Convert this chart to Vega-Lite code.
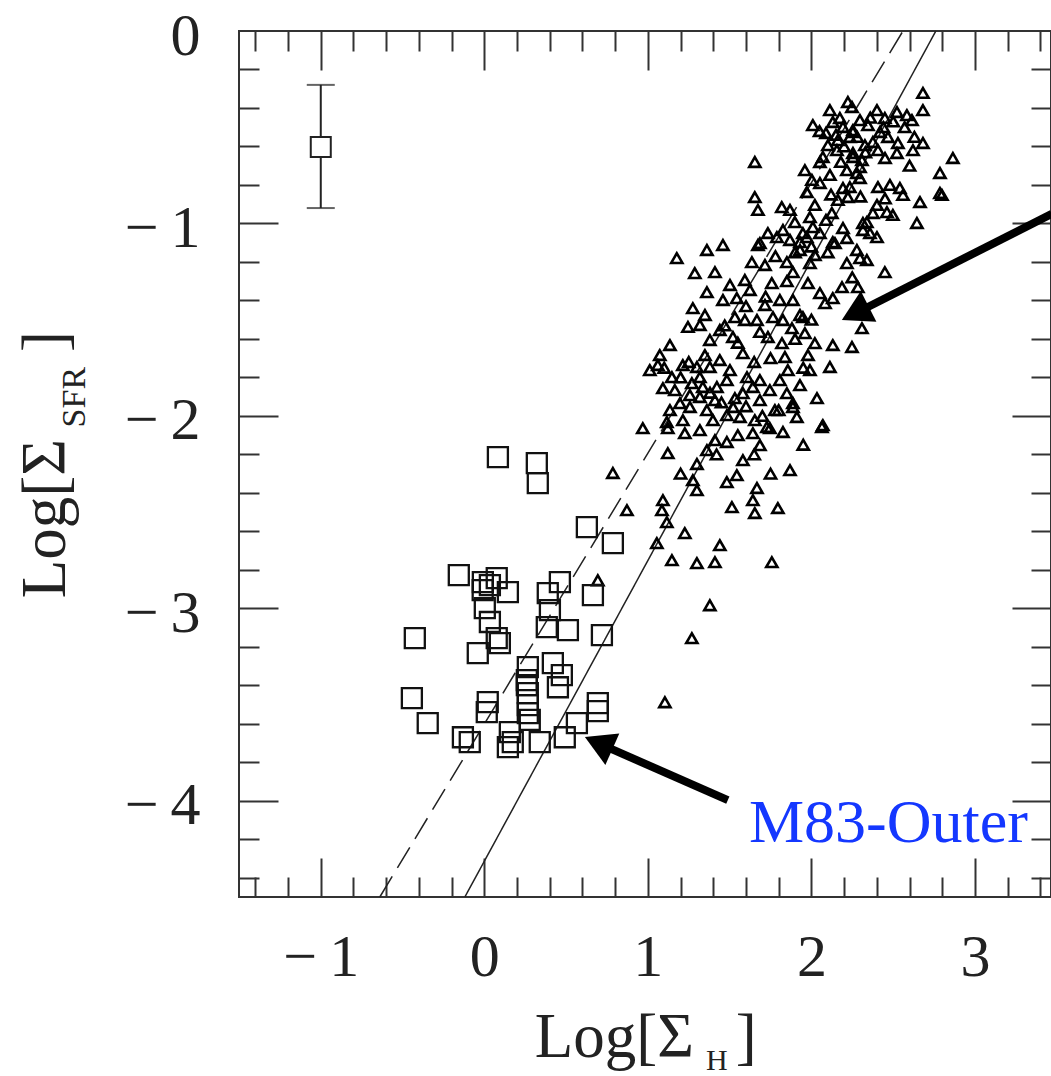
{
  "$schema": "https://vega.github.io/schema/vega-lite/v6.json",
  "width": 812,
  "height": 866,
  "autosize": {"type": "none"},
  "padding": {"left": 239, "top": 31, "right": 0, "bottom": 179},
  "background": "white",
  "config": {
    "view": {"stroke": "#333", "strokeWidth": 2},
    "axis": {"grid": false, "domain": false, "title": null}
  },
  "resolve": {"axis": {"x": "independent", "y": "independent"}},
  "datasets": {
    "lines": [
      {"line": "dashed", "x": -0.639, "y": -4.5},
      {"line": "dashed", "x": 2.56, "y": 0},
      {"line": "solid", "x": -0.119, "y": -4.5},
      {"line": "solid", "x": 2.761, "y": 0}
    ],
    "errbar": [{"x": -1, "y": -0.603, "lo": -0.92, "hi": -0.28}],
    "squares": [
      {"x": 0.083, "y": -2.214}, {"x": 0.321, "y": -2.245}, {"x": 0.327, "y": -2.349},
      {"x": 0.627, "y": -2.578}, {"x": 0.786, "y": -2.661}, {"x": -0.156, "y": -2.827},
      {"x": -0.009, "y": -2.864}, {"x": 0.034, "y": -2.879}, {"x": 0.144, "y": -2.916},
      {"x": 0.462, "y": -2.864}, {"x": 0.388, "y": -2.921}, {"x": 0.664, "y": -2.931},
      {"x": 0.003, "y": -2.999}, {"x": 0.401, "y": -3.009}, {"x": 0.034, "y": -3.071},
      {"x": 0.382, "y": -3.098}, {"x": 0.511, "y": -3.113}, {"x": 0.719, "y": -3.139},
      {"x": -0.425, "y": -3.155}, {"x": 0.076, "y": -3.155}, {"x": 0.095, "y": -3.181},
      {"x": -0.04, "y": -3.233}, {"x": 0.266, "y": -3.306}, {"x": 0.419, "y": -3.285},
      {"x": 0.474, "y": -3.347}, {"x": 0.26, "y": -3.373}, {"x": 0.266, "y": -3.441},
      {"x": 0.45, "y": -3.41}, {"x": -0.443, "y": -3.467}, {"x": 0.266, "y": -3.503},
      {"x": 0.021, "y": -3.487}, {"x": 0.694, "y": -3.493}, {"x": 0.694, "y": -3.534},
      {"x": -0.346, "y": -3.597}, {"x": 0.015, "y": -3.539}, {"x": -0.131, "y": -3.67},
      {"x": -0.089, "y": -3.695}, {"x": 0.156, "y": -3.643}, {"x": 0.174, "y": -3.695},
      {"x": 0.144, "y": -3.721}, {"x": 0.339, "y": -3.695}, {"x": 0.492, "y": -3.67},
      {"x": 0.566, "y": -3.597}, {"x": 0.266, "y": -3.545}, {"x": 0.26, "y": -3.399},
      {"x": 0.278, "y": -3.58}, {"x": -0.01, "y": -2.905}, {"x": 0.076, "y": -2.843}
    ],
    "triangles": [
      {"x": 2.223, "y": -0.369}, {"x": 2.009, "y": -0.489}, {"x": 2.131, "y": -0.473}, {"x": 2.193, "y": -0.499},
      {"x": 2.254, "y": -0.515}, {"x": 2.235, "y": -0.551}, {"x": 2.401, "y": -0.411}, {"x": 2.449, "y": -0.452},
      {"x": 2.523, "y": -0.421}, {"x": 2.584, "y": -0.437}, {"x": 2.615, "y": -0.463}, {"x": 2.682, "y": -0.322},
      {"x": 2.682, "y": -0.411}, {"x": 2.419, "y": -0.525}, {"x": 2.468, "y": -0.551}, {"x": 2.376, "y": -0.577},
      {"x": 2.529, "y": -0.582}, {"x": 2.523, "y": -0.634}, {"x": 2.621, "y": -0.619}, {"x": 2.682, "y": -0.582},
      {"x": 2.865, "y": -0.66}, {"x": 2.786, "y": -0.738}, {"x": 2.786, "y": -0.842}, {"x": 2.664, "y": -0.889},
      {"x": 2.645, "y": -0.998}, {"x": 2.101, "y": -0.593}, {"x": 2.156, "y": -0.619}, {"x": 2.07, "y": -0.655},
      {"x": 2.052, "y": -0.681}, {"x": 1.96, "y": -0.723}, {"x": 1.654, "y": -0.681}, {"x": 2.254, "y": -0.655},
      {"x": 2.309, "y": -0.671}, {"x": 2.217, "y": -0.723}, {"x": 2.278, "y": -0.738}, {"x": 2.297, "y": -0.764},
      {"x": 2.052, "y": -0.79}, {"x": 1.972, "y": -0.837}, {"x": 2.193, "y": -0.816}, {"x": 2.223, "y": -0.863},
      {"x": 2.407, "y": -0.811}, {"x": 2.48, "y": -0.8}, {"x": 2.541, "y": -0.816}, {"x": 2.56, "y": -0.852},
      {"x": 2.401, "y": -0.904}, {"x": 2.376, "y": -0.946}, {"x": 2.462, "y": -0.941}, {"x": 2.498, "y": -0.956},
      {"x": 2.125, "y": -0.946}, {"x": 1.654, "y": -0.863}, {"x": 1.673, "y": -0.93}, {"x": 1.819, "y": -0.915},
      {"x": 1.991, "y": -0.967}, {"x": 2.009, "y": -1.019}, {"x": 2.052, "y": -1.05}, {"x": 1.948, "y": -1.05},
      {"x": 1.93, "y": -1.097}, {"x": 1.734, "y": -1.05}, {"x": 1.826, "y": -1.034}, {"x": 1.685, "y": -1.102},
      {"x": 1.459, "y": -1.112}, {"x": 1.361, "y": -1.138}, {"x": 1.177, "y": -1.18}, {"x": 2.193, "y": -1.024},
      {"x": 2.315, "y": -0.998}, {"x": 2.358, "y": -1.05}, {"x": 2.401, "y": -1.071}, {"x": 2.131, "y": -1.097},
      {"x": 2.278, "y": -1.138}, {"x": 2.217, "y": -1.076}, {"x": 2.339, "y": -0.993}, {"x": 2.315, "y": -1.034},
      {"x": 2.254, "y": -0.525}, {"x": 2.254, "y": -0.634}, {"x": 2.297, "y": -0.707}, {"x": 2.248, "y": -0.395},
      {"x": 2.235, "y": -0.811}, {"x": 2.798, "y": -0.852}, {"x": 2.144, "y": -1.102}, {"x": 2.217, "y": -1.206},
      {"x": 2.339, "y": -1.19}, {"x": 2.449, "y": -1.253}, {"x": 1.991, "y": -1.206}, {"x": 1.979, "y": -1.31},
      {"x": 2.187, "y": -1.331}, {"x": 2.284, "y": -1.331}, {"x": 2.052, "y": -1.362}, {"x": 2.131, "y": -1.388},
      {"x": 2.083, "y": -1.414}, {"x": 2.309, "y": -1.544}, {"x": 1.948, "y": -1.487}, {"x": 1.96, "y": -1.57},
      {"x": 2.021, "y": -1.622}, {"x": 2.131, "y": -1.632}, {"x": 2.248, "y": -1.642}, {"x": 1.287, "y": -1.258},
      {"x": 1.41, "y": -1.253}, {"x": 1.361, "y": -1.357}, {"x": 1.275, "y": -1.44}, {"x": 1.349, "y": -1.476},
      {"x": 1.459, "y": -1.398}, {"x": 1.544, "y": -1.388}, {"x": 1.624, "y": -1.346}, {"x": 1.532, "y": -1.487},
      {"x": 1.636, "y": -1.201}, {"x": 1.673, "y": -1.112}, {"x": 1.758, "y": -1.31}, {"x": 1.85, "y": -1.201},
      {"x": 1.93, "y": -1.138}, {"x": 1.972, "y": -1.071}, {"x": 1.789, "y": -1.071}, {"x": 1.887, "y": -1.253},
      {"x": 1.887, "y": -1.398}, {"x": 1.93, "y": -1.476}, {"x": 1.765, "y": -1.487}, {"x": 1.667, "y": -1.502},
      {"x": 1.685, "y": -1.564}, {"x": 1.734, "y": -1.59}, {"x": 1.826, "y": -1.502}, {"x": 1.881, "y": -1.544},
      {"x": 2.113, "y": -1.746}, {"x": 2.297, "y": -1.18}, {"x": 1.379, "y": -1.606}, {"x": 1.52, "y": -1.59},
      {"x": 1.581, "y": -1.674}, {"x": 1.82, "y": -1.622}, {"x": 1.838, "y": -1.694}, {"x": 1.856, "y": -1.762},
      {"x": 1.135, "y": -1.632}, {"x": 1.061, "y": -1.736}, {"x": 1.214, "y": -1.736}, {"x": 1.147, "y": -1.799},
      {"x": 1.092, "y": -1.856}, {"x": 1.3, "y": -1.746}, {"x": 1.318, "y": -1.799}, {"x": 1.379, "y": -1.746},
      {"x": 1.44, "y": -1.71}, {"x": 1.269, "y": -1.83}, {"x": 1.336, "y": -1.85}, {"x": 1.422, "y": -1.85},
      {"x": 1.318, "y": -1.902}, {"x": 1.361, "y": -1.97}, {"x": 1.257, "y": -1.954}, {"x": 1.135, "y": -1.97},
      {"x": 1.196, "y": -1.934}, {"x": 1.483, "y": -1.814}, {"x": 1.606, "y": -1.799}, {"x": 1.685, "y": -1.814},
      {"x": 1.581, "y": -1.882}, {"x": 1.642, "y": -1.85}, {"x": 1.746, "y": -1.866}, {"x": 1.807, "y": -1.814},
      {"x": 1.85, "y": -1.882}, {"x": 1.887, "y": -1.934}, {"x": 2.034, "y": -1.908}, {"x": 1.52, "y": -1.954},
      {"x": 1.483, "y": -1.996}, {"x": 1.563, "y": -2.006}, {"x": 1.654, "y": -2.022}, {"x": 1.728, "y": -2.058},
      {"x": 1.398, "y": -2.022}, {"x": 1.214, "y": -2.022}, {"x": 1.116, "y": -2.032}, {"x": 0.969, "y": -2.064},
      {"x": 2.07, "y": -2.048}, {"x": 1.911, "y": -2.006}, {"x": 1.122, "y": -2.194}, {"x": 0.786, "y": -2.297},
      {"x": 0.872, "y": -2.49}, {"x": 1.226, "y": -2.09}, {"x": 1.122, "y": -2.064}, {"x": 1.361, "y": -2.178},
      {"x": 1.483, "y": -2.136}, {"x": 1.581, "y": -2.23}, {"x": 1.544, "y": -2.308}, {"x": 1.483, "y": -2.344},
      {"x": 1.642, "y": -2.09}, {"x": 1.746, "y": -2.064}, {"x": 1.826, "y": -2.084}, {"x": 1.887, "y": -1.954},
      {"x": 2.064, "y": -2.058}, {"x": 1.869, "y": -2.282}, {"x": 1.667, "y": -2.375}, {"x": 1.642, "y": -2.438},
      {"x": 1.514, "y": -2.474}, {"x": 1.654, "y": -2.505}, {"x": 1.795, "y": -2.479}, {"x": 1.275, "y": -2.334},
      {"x": 1.3, "y": -2.386}, {"x": 1.092, "y": -2.438}, {"x": 1.086, "y": -2.49}, {"x": 1.116, "y": -2.552},
      {"x": 1.226, "y": -2.609}, {"x": 1.055, "y": -2.661}, {"x": 1.147, "y": -2.75}, {"x": 1.3, "y": -2.765},
      {"x": 1.41, "y": -2.76}, {"x": 1.44, "y": -2.672}, {"x": 1.758, "y": -2.76}, {"x": 1.379, "y": -2.984},
      {"x": 1.269, "y": -3.155}, {"x": 1.104, "y": -3.488}, {"x": 0.694, "y": -2.854},
      {"x": 2.113, "y": -0.411}, {"x": 2.174, "y": -0.452}, {"x": 2.297, "y": -0.463}, {"x": 2.346, "y": -0.489},
      {"x": 2.089, "y": -0.53}, {"x": 2.162, "y": -0.567}, {"x": 2.327, "y": -0.593}, {"x": 2.407, "y": -0.619},
      {"x": 2.113, "y": -0.748}, {"x": 2.003, "y": -0.774}, {"x": 2.162, "y": -0.878}, {"x": 2.021, "y": -0.904},
      {"x": 2.089, "y": -0.982}, {"x": 1.899, "y": -0.993}, {"x": 1.869, "y": -0.93}, {"x": 1.716, "y": -1.216},
      {"x": 1.593, "y": -1.294}, {"x": 1.502, "y": -1.32}, {"x": 1.807, "y": -1.398}, {"x": 1.716, "y": -1.424},
      {"x": 2.021, "y": -1.164}, {"x": 1.869, "y": -1.086}, {"x": 1.593, "y": -1.502}, {"x": 1.44, "y": -1.554},
      {"x": 1.318, "y": -1.528}, {"x": 1.073, "y": -1.684}, {"x": 1.012, "y": -1.762}, {"x": 1.165, "y": -1.866},
      {"x": 1.257, "y": -1.892}, {"x": 1.41, "y": -1.918}, {"x": 1.532, "y": -1.908}, {"x": 1.685, "y": -1.918},
      {"x": 1.777, "y": -1.97}, {"x": 1.93, "y": -1.84}, {"x": 1.991, "y": -1.762}, {"x": 1.979, "y": -1.684},
      {"x": 1.502, "y": -1.762}, {"x": 1.349, "y": -1.684}, {"x": 1.318, "y": -2.074}, {"x": 1.41, "y": -2.126},
      {"x": 1.685, "y": -2.152}, {"x": 1.245, "y": -1.538},
      {"x": 2.05, "y": -0.52}, {"x": 2.15, "y": -0.54}, {"x": 2.28, "y": -0.55}, {"x": 2.36, "y": -0.45},
      {"x": 2.44, "y": -0.5}, {"x": 2.5, "y": -0.47}, {"x": 2.57, "y": -0.5}, {"x": 2.63, "y": -0.55},
      {"x": 2.2, "y": -0.6}, {"x": 2.33, "y": -0.63}, {"x": 2.45, "y": -0.66}, {"x": 2.6, "y": -0.7},
      {"x": 2.18, "y": -0.68}, {"x": 2.12, "y": -0.85}, {"x": 2.3, "y": -0.86}, {"x": 2.45, "y": -0.87},
      {"x": 1.9, "y": -1.15}, {"x": 2.0, "y": -1.12}, {"x": 2.1, "y": -1.15}, {"x": 2.25, "y": -1.28},
      {"x": 1.85, "y": -1.3}, {"x": 1.78, "y": -1.17}, {"x": 1.6, "y": -1.43}, {"x": 1.72, "y": -1.38},
      {"x": 1.47, "y": -1.53}, {"x": 1.55, "y": -1.62}, {"x": 1.9, "y": -1.6}, {"x": 2.0, "y": -1.5},
      {"x": 1.75, "y": -1.7}, {"x": 1.65, "y": -1.72}, {"x": 1.95, "y": -1.75}, {"x": 1.2, "y": -1.8},
      {"x": 1.25, "y": -1.72}, {"x": 1.1, "y": -1.75}, {"x": 1.38, "y": -1.88}, {"x": 1.45, "y": -1.93},
      {"x": 1.6, "y": -1.95}, {"x": 1.7, "y": -2.0}, {"x": 1.8, "y": -1.97}, {"x": 1.55, "y": -2.1},
      {"x": 1.42, "y": -2.2}, {"x": 1.3, "y": -2.25}, {"x": 1.2, "y": -2.3}, {"x": 1.65, "y": -2.2},
      {"x": 1.75, "y": -2.3}, {"x": 1.95, "y": -2.15}
    ]
  },
  "layer": [
    {
      "data": {"name": "lines"},
      "mark": {"type": "line", "stroke": "#222", "strokeWidth": 1.5},
      "encoding": {
        "x": {"field": "x", "type": "quantitative", "scale": {"domain": [-1.5, 3.465], "nice": false, "zero": false},
          "axis": {"orient": "bottom", "labels": false, "ticks": true, "tickSize": -20, "tickWidth": 2, "tickColor": "#333",
            "values": [-1.4, -1.2, -0.8, -0.6, -0.4, -0.2, 0.2, 0.4, 0.6, 0.8, 1.2, 1.4, 1.6, 1.8, 2.2, 2.4, 2.6, 2.8, 3.2, 3.4]}},
        "y": {"field": "y", "type": "quantitative", "scale": {"domain": [-4.5, 0], "nice": false, "zero": false},
          "axis": {"orient": "left", "labels": false, "ticks": true, "tickSize": -20, "tickWidth": 2, "tickColor": "#333",
            "values": [-4.4, -4.2, -3.8, -3.6, -3.4, -3.2, -2.8, -2.6, -2.4, -2.2, -1.8, -1.6, -1.4, -1.2, -0.8, -0.6, -0.4, -0.2]}},
        "detail": {"field": "line", "type": "nominal"},
        "strokeDash": {"field": "line", "type": "nominal", "scale": {"domain": ["dashed", "solid"], "range": [[24, 10], [1, 0]]}, "legend": null}
      }
    },
    {
      "data": {"name": "triangles"},
      "mark": {"type": "point", "shape": "triangle-up", "filled": false, "stroke": "#000", "strokeWidth": 2.6, "size": 125, "opacity": 1},
      "encoding": {
        "x": {"field": "x", "type": "quantitative", "scale": {"domain": [-1.5, 3.465], "nice": false, "zero": false},
          "axis": {"orient": "bottom", "labels": false, "ticks": true, "tickSize": -39, "tickWidth": 2, "tickColor": "#333", "values": [-1, 0, 1, 2, 3]}},
        "y": {"field": "y", "type": "quantitative", "scale": {"domain": [-4.5, 0], "nice": false, "zero": false},
          "axis": {"orient": "left", "labels": false, "ticks": true, "tickSize": -39, "tickWidth": 2, "tickColor": "#333", "values": [-4, -3, -2, -1]}}
      }
    },
    {
      "data": {"name": "squares"},
      "mark": {"type": "point", "shape": "square", "filled": false, "stroke": "#111", "strokeWidth": 2.3, "size": 400, "opacity": 1},
      "encoding": {
        "x": {"field": "x", "type": "quantitative", "scale": {"domain": [-1.5, 3.465], "nice": false, "zero": false},
          "axis": {"orient": "bottom", "ticks": false, "values": [-1, 0, 1, 2, 3], "labelFont": "Liberation Serif", "labelFontSize": 60, "labelColor": "#222",
            "labelPadding": 78, "labelBaseline": "alphabetic", "labelFlush": false, "labelOverlap": false, "labelBound": false,
            "labelExpr": "datum.value < 0 ? '\u2212\u2009' + format(-datum.value, 'd') : format(datum.value, 'd')"}},
        "y": {"field": "y", "type": "quantitative", "scale": {"domain": [-4.5, 0], "nice": false, "zero": false},
          "axis": {"orient": "left", "ticks": false, "values": [-4, -3, -2, -1, 0], "labelFont": "Liberation Serif", "labelFontSize": 60, "labelColor": "#222",
            "labelPadding": 39, "labelAlign": "right", "labelBaseline": "middle", "labelOffset": 5, "labelFlush": false, "labelOverlap": false, "labelBound": false,
            "labelExpr": "datum.value < 0 ? '\u2212\u2009' + format(-datum.value, 'd') : format(datum.value, 'd')"}}
      }
    },
    {
      "data": {"name": "errbar"},
      "mark": {"type": "rule", "stroke": "#222", "strokeWidth": 2},
      "encoding": {
        "x": {"field": "x", "type": "quantitative", "scale": {"domain": [-1.5, 3.465], "nice": false, "zero": false},
          "axis": {"orient": "top", "labels": false, "ticks": true, "tickSize": -39, "tickWidth": 2, "tickColor": "#333", "values": [-1, 0, 1, 2, 3]}},
        "y": {"field": "lo", "type": "quantitative", "scale": {"domain": [-4.5, 0], "nice": false, "zero": false},
          "axis": {"orient": "right", "labels": false, "ticks": true, "tickSize": -39, "tickWidth": 2, "tickColor": "#333", "values": [-4, -3, -2, -1]}},
        "y2": {"field": "hi"}
      }
    },
    {
      "data": {"name": "errbar"},
      "mark": {"type": "tick", "orient": "horizontal", "color": "#222", "size": 28, "thickness": 2},
      "encoding": {
        "x": {"field": "x", "type": "quantitative", "scale": {"domain": [-1.5, 3.465], "nice": false, "zero": false},
          "axis": {"orient": "top", "labels": false, "ticks": true, "tickSize": -20, "tickWidth": 2, "tickColor": "#333",
            "values": [-1.4, -1.2, -0.8, -0.6, -0.4, -0.2, 0.2, 0.4, 0.6, 0.8, 1.2, 1.4, 1.6, 1.8, 2.2, 2.4, 2.6, 2.8, 3.2, 3.4]}},
        "y": {"field": "lo", "type": "quantitative", "scale": {"domain": [-4.5, 0], "nice": false, "zero": false},
          "axis": {"orient": "right", "labels": false, "ticks": true, "tickSize": -20, "tickWidth": 2, "tickColor": "#333",
            "values": [-4.4, -4.2, -3.8, -3.6, -3.4, -3.2, -2.8, -2.6, -2.4, -2.2, -1.8, -1.6, -1.4, -1.2, -0.8, -0.6, -0.4, -0.2]}}
      }
    },
    {
      "data": {"name": "errbar"},
      "mark": {"type": "tick", "orient": "horizontal", "color": "#222", "size": 28, "thickness": 2},
      "encoding": {
        "x": {"field": "x", "type": "quantitative", "scale": {"domain": [-1.5, 3.465], "nice": false, "zero": false}, "axis": null},
        "y": {"field": "hi", "type": "quantitative", "scale": {"domain": [-4.5, 0], "nice": false, "zero": false}, "axis": null}
      }
    },
    {
      "data": {"name": "errbar"},
      "mark": {"type": "point", "shape": "square", "filled": true, "fill": "white", "stroke": "#222", "strokeWidth": 2, "size": 400, "opacity": 1},
      "encoding": {
        "x": {"field": "x", "type": "quantitative", "scale": {"domain": [-1.5, 3.465], "nice": false, "zero": false}, "axis": null},
        "y": {"field": "y", "type": "quantitative", "scale": {"domain": [-4.5, 0], "nice": false, "zero": false}, "axis": null}
      }
    },
    {
      "data": {"values": [{}]},
      "mark": {"type": "rule", "stroke": "black", "strokeWidth": 8},
      "encoding": {
        "x": {"datum": 3.47, "type": "quantitative", "scale": {"domain": [-1.5, 3.465], "nice": false, "zero": false}, "axis": null},
        "y": {"datum": -0.95, "type": "quantitative", "scale": {"domain": [-4.5, 0], "nice": false, "zero": false}, "axis": null},
        "x2": {"datum": 2.297},
        "y2": {"datum": -1.455}
      }
    },
    {
      "data": {"values": [{}]},
      "mark": {"type": "point", "shape": "M0,0 L-2,-1.15 L-2,1.15 Z", "filled": true, "fill": "black", "stroke": null, "size": 900, "angle": 153.1, "opacity": 1},
      "encoding": {
        "x": {"datum": 2.186, "type": "quantitative", "scale": {"domain": [-1.5, 3.465], "nice": false, "zero": false}, "axis": null},
        "y": {"datum": -1.502, "type": "quantitative", "scale": {"domain": [-4.5, 0], "nice": false, "zero": false}, "axis": null}
      }
    },
    {
      "data": {"values": [{}]},
      "mark": {"type": "rule", "stroke": "black", "strokeWidth": 8},
      "encoding": {
        "x": {"datum": 1.489, "type": "quantitative", "scale": {"domain": [-1.5, 3.465], "nice": false, "zero": false}, "axis": null},
        "y": {"datum": -3.997, "type": "quantitative", "scale": {"domain": [-4.5, 0], "nice": false, "zero": false}, "axis": null},
        "x2": {"datum": 0.727},
        "y2": {"datum": -3.712}
      }
    },
    {
      "data": {"values": [{}]},
      "mark": {"type": "point", "shape": "M0,0 L-2,-1.15 L-2,1.15 Z", "filled": true, "fill": "black", "stroke": null, "size": 900, "angle": 203.8, "opacity": 1},
      "encoding": {
        "x": {"datum": 0.615, "type": "quantitative", "scale": {"domain": [-1.5, 3.465], "nice": false, "zero": false}, "axis": null},
        "y": {"datum": -3.669, "type": "quantitative", "scale": {"domain": [-4.5, 0], "nice": false, "zero": false}, "axis": null}
      }
    },
    {
      "data": {"values": [{}]},
      "mark": {"type": "text", "text": "M83-Outer", "font": "Liberation Serif", "fontSize": 62, "color": "#1437ff", "align": "left", "baseline": "alphabetic"},
      "encoding": {
        "x": {"datum": 1.618, "type": "quantitative", "scale": {"domain": [-1.5, 3.465], "nice": false, "zero": false}, "axis": null},
        "y": {"datum": -4.215, "type": "quantitative", "scale": {"domain": [-4.5, 0], "nice": false, "zero": false}, "axis": null}
      }
    },
    {
      "data": {"values": [{}]},
      "mark": {"type": "text", "text": "Log[Σ", "font": "Liberation Serif", "fontSize": 63, "color": "#222", "align": "left", "baseline": "alphabetic"},
      "encoding": {
        "x": {"datum": 0.309, "type": "quantitative", "scale": {"domain": [-1.5, 3.465], "nice": false, "zero": false}, "axis": null},
        "y": {"datum": -5.333, "type": "quantitative", "scale": {"domain": [-4.5, 0], "nice": false, "zero": false}, "axis": null}
      }
    },
    {
      "data": {"values": [{}]},
      "mark": {"type": "text", "text": "H", "font": "Liberation Serif", "fontSize": 30, "color": "#222", "align": "left", "baseline": "alphabetic"},
      "encoding": {
        "x": {"datum": 1.355, "type": "quantitative", "scale": {"domain": [-1.5, 3.465], "nice": false, "zero": false}, "axis": null},
        "y": {"datum": -5.4, "type": "quantitative", "scale": {"domain": [-4.5, 0], "nice": false, "zero": false}, "axis": null}
      }
    },
    {
      "data": {"values": [{}]},
      "mark": {"type": "text", "text": "]", "font": "Liberation Serif", "fontSize": 63, "color": "#222", "align": "left", "baseline": "alphabetic"},
      "encoding": {
        "x": {"datum": 1.538, "type": "quantitative", "scale": {"domain": [-1.5, 3.465], "nice": false, "zero": false}, "axis": null},
        "y": {"datum": -5.333, "type": "quantitative", "scale": {"domain": [-4.5, 0], "nice": false, "zero": false}, "axis": null}
      }
    },
    {
      "data": {"values": [{}]},
      "mark": {"type": "text", "text": "Log[Σ", "font": "Liberation Serif", "fontSize": 63, "color": "#222", "align": "left", "baseline": "alphabetic", "angle": 270},
      "encoding": {
        "x": {"datum": -2.566, "type": "quantitative", "scale": {"domain": [-1.5, 3.465], "nice": false, "zero": false}, "axis": null},
        "y": {"datum": -2.947, "type": "quantitative", "scale": {"domain": [-4.5, 0], "nice": false, "zero": false}, "axis": null}
      }
    },
    {
      "data": {"values": [{}]},
      "mark": {"type": "text", "text": "SFR", "font": "Liberation Serif", "fontSize": 34, "color": "#222", "align": "left", "baseline": "alphabetic", "angle": 270},
      "encoding": {
        "x": {"datum": -2.443, "type": "quantitative", "scale": {"domain": [-1.5, 3.465], "nice": false, "zero": false}, "axis": null},
        "y": {"datum": -2.06, "type": "quantitative", "scale": {"domain": [-4.5, 0], "nice": false, "zero": false}, "axis": null}
      }
    },
    {
      "data": {"values": [{}]},
      "mark": {"type": "text", "text": "]", "font": "Liberation Serif", "fontSize": 63, "color": "#222", "align": "left", "baseline": "alphabetic", "angle": 270},
      "encoding": {
        "x": {"datum": -2.566, "type": "quantitative", "scale": {"domain": [-1.5, 3.465], "nice": false, "zero": false}, "axis": null},
        "y": {"datum": -1.668, "type": "quantitative", "scale": {"domain": [-4.5, 0], "nice": false, "zero": false}, "axis": null}
      }
    }
  ]
}
